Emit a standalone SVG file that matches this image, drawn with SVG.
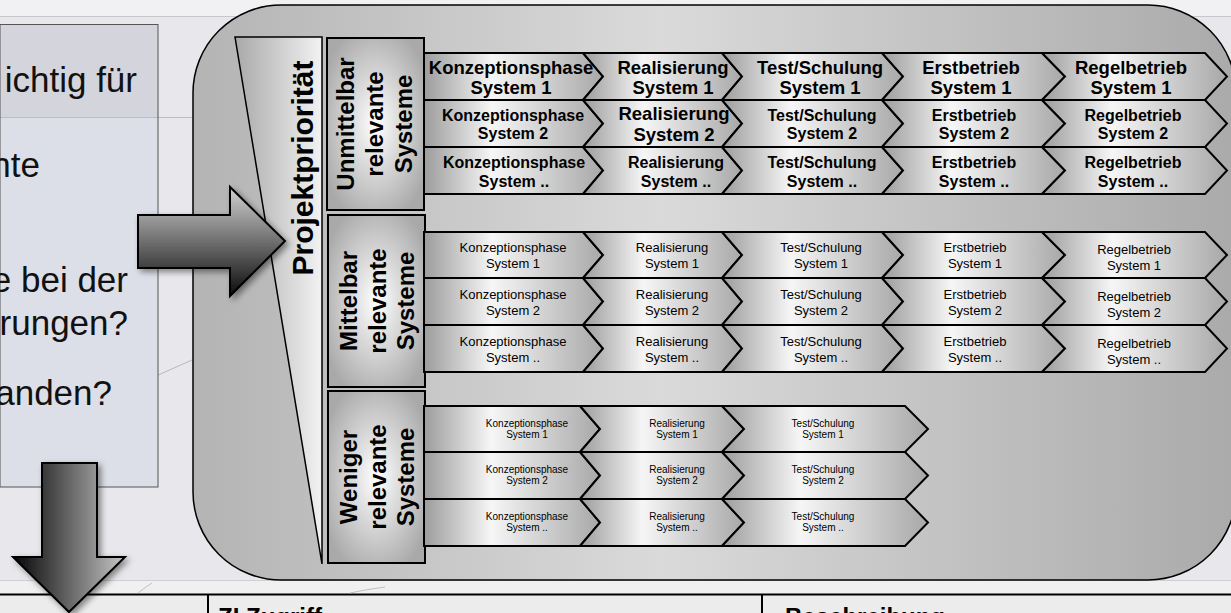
<svg xmlns="http://www.w3.org/2000/svg" width="1231" height="613" viewBox="0 0 1231 613">
<defs>
  <linearGradient id="gBig" x1="0" y1="0" x2="1" y2="0">
    <stop offset="0" stop-color="#b4b4b4"/>
    <stop offset="0.45" stop-color="#dadada"/>
    <stop offset="1" stop-color="#aaaaaa"/>
  </linearGradient>
  <linearGradient id="gChev" x1="0" y1="0" x2="1" y2="0">
    <stop offset="0" stop-color="#9c9c9c"/>
    <stop offset="0.38" stop-color="#f6f6f6"/>
    <stop offset="1" stop-color="#a8a8a8"/>
  </linearGradient>
  <radialGradient id="gLabel" cx="0.5" cy="0.5" r="0.6">
    <stop offset="0" stop-color="#ffffff"/>
    <stop offset="1" stop-color="#a9a9a9"/>
  </radialGradient>
  <linearGradient id="gPrio" x1="0" y1="0" x2="1" y2="0">
    <stop offset="0" stop-color="#a9a9a9"/>
    <stop offset="1" stop-color="#f2f2f2"/>
  </linearGradient>
  <linearGradient id="gArrR" x1="0" y1="0" x2="0" y2="1">
    <stop offset="0" stop-color="#d2d2d2"/>
    <stop offset="1" stop-color="#0c0c0c"/>
  </linearGradient>
  <linearGradient id="gArrD" x1="0" y1="0" x2="1" y2="0">
    <stop offset="0" stop-color="#050505"/>
    <stop offset="1" stop-color="#c6c6c6"/>
  </linearGradient>
  <filter id="shadow" x="-20%" y="-20%" width="150%" height="150%">
    <feDropShadow dx="3" dy="3" stdDeviation="3" flood-color="#000" flood-opacity="0.45"/>
  </filter>
</defs>
<style>
  .chev { fill: url(#gChev); stroke: #000; stroke-width: 2; stroke-linejoin: miter; }
  .lbl { fill: url(#gLabel); stroke: #000; stroke-width: 2; }
  .bl { font-family: "Liberation Sans", Arial, sans-serif; font-weight: bold; text-anchor: middle; fill: #000; }
  .rg { font-family: "Liberation Sans", Arial, sans-serif; text-anchor: middle; fill: #000; }
  .big { font-size: 18.5px; }
  .mid { font-size: 16px; }
  .sm { font-size: 13px; }
  .xs { font-size: 10px; }
  .bg { font-family: "Liberation Sans", Arial, sans-serif; font-size: 35px; fill: #111; text-anchor: end; }
</style>

<!-- background -->
<g id="background">
  <rect x="0" y="0" width="1231" height="613" fill="#e8e8ec"/>
  <rect x="0" y="0" width="1231" height="16" fill="#f1f1f3"/>
  <line x1="0" y1="16.5" x2="1231" y2="16.5" stroke="#c8c8cc" stroke-width="1"/>
  <rect x="0" y="580" width="1231" height="14" fill="#f0f0f0"/>
  <line x1="0" y1="580.5" x2="1231" y2="580.5" stroke="#cfcfd2" stroke-width="1"/>
  <rect x="0" y="594" width="1231" height="19" fill="#ececec"/>
  <line x1="0" y1="594.5" x2="1231" y2="594.5" stroke="#000" stroke-width="2"/>
  <line x1="208" y1="594" x2="208" y2="613" stroke="#000" stroke-width="2"/>
  <line x1="762" y1="594" x2="762" y2="613" stroke="#000" stroke-width="2"/>
  <text x="218" y="625" font-family="Liberation Sans, Arial, sans-serif" font-weight="bold" font-size="24" fill="#000">ZI Zugriff</text>
  <text x="785" y="625" font-family="Liberation Sans, Arial, sans-serif" font-weight="bold" font-size="24" fill="#000">Beschreibung</text>
  <polyline points="0,432 60,418 120,392 192,360" fill="none" stroke="#b8b8bc" stroke-width="1"/>
  <polyline points="138,593 146,587 152,583" fill="none" stroke="#c0c0c4" stroke-width="1"/>
  <polyline points="350,593 365,590 385,587" fill="none" stroke="#c0c0c4" stroke-width="1"/>
</g>

<!-- left text box -->
<g id="question-box">
  <rect x="0" y="24" width="158" height="463" fill="#dcdfe7"/>
  <rect x="0" y="24" width="158" height="93.5" fill="#d4d4dd"/>
  <line x1="0" y1="117.5" x2="192" y2="117.5" stroke="#bdbdc2" stroke-width="1"/>
  <rect x="0" y="24.5" width="158" height="462.5" fill="none" stroke="#555" stroke-width="1"/>
  <text class="bg" x="137" y="92">ichtig für</text>
  <text class="bg" x="40" y="177">nte</text>
  <text class="bg" x="128" y="292">e bei der</text>
  <text class="bg" x="128" y="335">rungen?</text>
  <text class="bg" x="112" y="405">anden?</text>
</g>

<!-- big rounded frame -->
<g id="frame">
  <path d="M281,5 H1148 A88,88 0 0 1 1236,93 V492 A88,88 0 0 1 1148,580 H281 A88,88 0 0 1 193,492 V93 A88,88 0 0 1 281,5 Z" fill="url(#gBig)" stroke="#000" stroke-width="1.5"/>
</g>

<!-- project priority wedge -->
<g id="projektprioritaet">
  <polygon points="235,37 322,37 322,564" fill="url(#gPrio)" stroke="#000" stroke-width="1.5"/>
  <text class="bl" transform="translate(313,168) rotate(-90)" x="0" y="0" font-size="30">Projektpriorität</text>
</g>

<!-- category labels -->
<g id="label-unmittelbar">
  <rect class="lbl" x="327" y="38" width="97" height="172"/>
  <text class="bl" transform="translate(375,124) rotate(-90)" font-size="24"><tspan x="0" y="-21">Unmittelbar</tspan><tspan x="0" y="8">relevante</tspan><tspan x="0" y="37">Systeme</tspan></text>
</g>
<g id="label-mittelbar">
  <rect class="lbl" x="328" y="215" width="97" height="172"/>
  <text class="bl" transform="translate(376,301) rotate(-90)" font-size="24"><tspan x="0" y="-19">Mittelbar</tspan><tspan x="0" y="10">relevante</tspan><tspan x="0" y="38">Systeme</tspan></text>
</g>
<g id="label-weniger">
  <rect class="lbl" x="328" y="391" width="97" height="172"/>
  <text class="bl" transform="translate(376,477) rotate(-90)" font-size="24"><tspan x="0" y="-19">Weniger</tspan><tspan x="0" y="10">relevante</tspan><tspan x="0" y="38">Systeme</tspan></text>
</g>

<!-- Unmittelbar relevante Systeme: chevrons -->
<g id="row-a1">
  <path class="chev" d="M424,53 H583 L603,76.5 L583,100 H424 Z"/>
  <path class="chev" d="M583,53 H722 L742,76.5 L722,100 H583 L603,76.5 Z"/>
  <path class="chev" d="M722,53 H882 L903,76.5 L882,100 H722 L742,76.5 Z"/>
  <path class="chev" d="M882,53 H1042 L1065,76.5 L1042,100 H882 L903,76.5 Z"/>
  <path class="chev" d="M1042,53 H1205 L1227,76.5 L1205,100 H1042 L1065,76.5 Z"/>
  <text class="bl big"><tspan x="511" y="74">Konzeptionsphase</tspan><tspan x="511" y="94">System 1</tspan></text>
  <text class="bl big"><tspan x="673" y="74">Realisierung</tspan><tspan x="673" y="94">System 1</tspan></text>
  <text class="bl big"><tspan x="820" y="74">Test/Schulung</tspan><tspan x="820" y="94">System 1</tspan></text>
  <text class="bl big"><tspan x="971" y="74">Erstbetrieb</tspan><tspan x="971" y="94">System 1</tspan></text>
  <text class="bl big"><tspan x="1131" y="74">Regelbetrieb</tspan><tspan x="1131" y="94">System 1</tspan></text>
</g>
<g id="row-a2">
  <path class="chev" d="M424,100 H583 L603,123.5 L583,147 H424 Z"/>
  <path class="chev" d="M583,100 H722 L742,123.5 L722,147 H583 L603,123.5 Z"/>
  <path class="chev" d="M722,100 H882 L903,123.5 L882,147 H722 L742,123.5 Z"/>
  <path class="chev" d="M882,100 H1042 L1065,123.5 L1042,147 H882 L903,123.5 Z"/>
  <path class="chev" d="M1042,100 H1205 L1227,123.5 L1205,147 H1042 L1065,123.5 Z"/>
  <text class="bl mid"><tspan x="513" y="121">Konzeptionsphase</tspan><tspan x="513" y="139">System 2</tspan></text>
  <text class="bl big"><tspan x="674" y="120">Realisierung</tspan><tspan x="674" y="141">System 2</tspan></text>
  <text class="bl mid"><tspan x="822" y="121">Test/Schulung</tspan><tspan x="822" y="139">System 2</tspan></text>
  <text class="bl mid"><tspan x="974" y="121">Erstbetrieb</tspan><tspan x="974" y="139">System 2</tspan></text>
  <text class="bl mid"><tspan x="1133" y="121">Regelbetrieb</tspan><tspan x="1133" y="139">System 2</tspan></text>
</g>
<g id="row-a3">
  <path class="chev" d="M424,147 H583 L603,170.5 L583,194 H424 Z"/>
  <path class="chev" d="M583,147 H722 L742,170.5 L722,194 H583 L603,170.5 Z"/>
  <path class="chev" d="M722,147 H882 L903,170.5 L882,194 H722 L742,170.5 Z"/>
  <path class="chev" d="M882,147 H1042 L1065,170.5 L1042,194 H882 L903,170.5 Z"/>
  <path class="chev" d="M1042,147 H1205 L1227,170.5 L1205,194 H1042 L1065,170.5 Z"/>
  <text class="bl mid"><tspan x="514" y="168">Konzeptionsphase</tspan><tspan x="514" y="187">System ..</tspan></text>
  <text class="bl mid"><tspan x="676" y="168">Realisierung</tspan><tspan x="676" y="187">System ..</tspan></text>
  <text class="bl mid"><tspan x="822" y="168">Test/Schulung</tspan><tspan x="822" y="187">System ..</tspan></text>
  <text class="bl mid"><tspan x="974" y="168">Erstbetrieb</tspan><tspan x="974" y="187">System ..</tspan></text>
  <text class="bl mid"><tspan x="1133" y="168">Regelbetrieb</tspan><tspan x="1133" y="187">System ..</tspan></text>
</g>

<!-- Mittelbar relevante Systeme -->
<g id="row-b1">
  <path class="chev" d="M424,232 H583 L603,255 L583,278 H424 Z"/>
  <path class="chev" d="M583,232 H722 L742,255 L722,278 H583 L603,255 Z"/>
  <path class="chev" d="M722,232 H882 L903,255 L882,278 H722 L742,255 Z"/>
  <path class="chev" d="M882,232 H1042 L1065,255 L1042,278 H882 L903,255 Z"/>
  <path class="chev" d="M1042,232 H1205 L1227,255 L1205,278 H1042 L1065,255 Z"/>
  <text class="rg sm"><tspan x="513" y="252">Konzeptionsphase</tspan><tspan x="513" y="268">System 1</tspan></text>
  <text class="rg sm"><tspan x="672" y="252">Realisierung</tspan><tspan x="672" y="268">System 1</tspan></text>
  <text class="rg sm"><tspan x="821" y="252">Test/Schulung</tspan><tspan x="821" y="268">System 1</tspan></text>
  <text class="rg sm"><tspan x="975" y="252">Erstbetrieb</tspan><tspan x="975" y="268">System 1</tspan></text>
  <text class="rg sm"><tspan x="1134" y="254">Regelbetrieb</tspan><tspan x="1134" y="270">System 1</tspan></text>
</g>
<g id="row-b2">
  <path class="chev" d="M424,278 H583 L603,301.5 L583,325 H424 Z"/>
  <path class="chev" d="M583,278 H722 L742,301.5 L722,325 H583 L603,301.5 Z"/>
  <path class="chev" d="M722,278 H882 L903,301.5 L882,325 H722 L742,301.5 Z"/>
  <path class="chev" d="M882,278 H1042 L1065,301.5 L1042,325 H882 L903,301.5 Z"/>
  <path class="chev" d="M1042,278 H1205 L1227,301.5 L1205,325 H1042 L1065,301.5 Z"/>
  <text class="rg sm"><tspan x="513" y="299">Konzeptionsphase</tspan><tspan x="513" y="315">System 2</tspan></text>
  <text class="rg sm"><tspan x="672" y="299">Realisierung</tspan><tspan x="672" y="315">System 2</tspan></text>
  <text class="rg sm"><tspan x="821" y="299">Test/Schulung</tspan><tspan x="821" y="315">System 2</tspan></text>
  <text class="rg sm"><tspan x="975" y="299">Erstbetrieb</tspan><tspan x="975" y="315">System 2</tspan></text>
  <text class="rg sm"><tspan x="1134" y="301">Regelbetrieb</tspan><tspan x="1134" y="317">System 2</tspan></text>
</g>
<g id="row-b3">
  <path class="chev" d="M424,325 H583 L603,348.5 L583,372 H424 Z"/>
  <path class="chev" d="M583,325 H722 L742,348.5 L722,372 H583 L603,348.5 Z"/>
  <path class="chev" d="M722,325 H882 L903,348.5 L882,372 H722 L742,348.5 Z"/>
  <path class="chev" d="M882,325 H1042 L1065,348.5 L1042,372 H882 L903,348.5 Z"/>
  <path class="chev" d="M1042,325 H1205 L1227,348.5 L1205,372 H1042 L1065,348.5 Z"/>
  <text class="rg sm"><tspan x="513" y="346">Konzeptionsphase</tspan><tspan x="513" y="362">System ..</tspan></text>
  <text class="rg sm"><tspan x="672" y="346">Realisierung</tspan><tspan x="672" y="362">System ..</tspan></text>
  <text class="rg sm"><tspan x="821" y="346">Test/Schulung</tspan><tspan x="821" y="362">System ..</tspan></text>
  <text class="rg sm"><tspan x="975" y="346">Erstbetrieb</tspan><tspan x="975" y="362">System ..</tspan></text>
  <text class="rg sm"><tspan x="1134" y="348">Regelbetrieb</tspan><tspan x="1134" y="364">System ..</tspan></text>
</g>

<!-- Weniger relevante Systeme -->
<g id="row-c1">
  <path class="chev" d="M424,406 H580 L600,429 L580,452 H424 Z"/>
  <path class="chev" d="M580,406 H722 L744,429 L722,452 H580 L600,429 Z"/>
  <path class="chev" d="M722,406 H905 L928,429 L905,452 H722 L744,429 Z"/>
  <text class="rg xs"><tspan x="527" y="427">Konzeptionsphase</tspan><tspan x="527" y="438">System 1</tspan></text>
  <text class="rg xs"><tspan x="677" y="427">Realisierung</tspan><tspan x="677" y="438">System 1</tspan></text>
  <text class="rg xs"><tspan x="823" y="427">Test/Schulung</tspan><tspan x="823" y="438">System 1</tspan></text>
</g>
<g id="row-c2">
  <path class="chev" d="M424,452 H580 L600,475.5 L580,499 H424 Z"/>
  <path class="chev" d="M580,452 H722 L744,475.5 L722,499 H580 L600,475.5 Z"/>
  <path class="chev" d="M722,452 H905 L928,475.5 L905,499 H722 L744,475.5 Z"/>
  <text class="rg xs"><tspan x="527" y="473">Konzeptionsphase</tspan><tspan x="527" y="484">System 2</tspan></text>
  <text class="rg xs"><tspan x="677" y="473">Realisierung</tspan><tspan x="677" y="484">System 2</tspan></text>
  <text class="rg xs"><tspan x="823" y="473">Test/Schulung</tspan><tspan x="823" y="484">System 2</tspan></text>
</g>
<g id="row-c3">
  <path class="chev" d="M424,499 H580 L600,522.5 L580,546 H424 Z"/>
  <path class="chev" d="M580,499 H722 L744,522.5 L722,546 H580 L600,522.5 Z"/>
  <path class="chev" d="M722,499 H905 L928,522.5 L905,546 H722 L744,522.5 Z"/>
  <text class="rg xs"><tspan x="527" y="520">Konzeptionsphase</tspan><tspan x="527" y="531">System ..</tspan></text>
  <text class="rg xs"><tspan x="677" y="520">Realisierung</tspan><tspan x="677" y="531">System ..</tspan></text>
  <text class="rg xs"><tspan x="823" y="520">Test/Schulung</tspan><tspan x="823" y="531">System ..</tspan></text>
</g>

<!-- connectors: block arrows -->
<g id="connectors">
  <path d="M138,215 H230 V187 L285,241 L230,296 V268 H138 Z" fill="url(#gArrR)" stroke="#000" stroke-width="2" filter="url(#shadow)"/>
  <path d="M42,463 H97 V557 H125 L69,612 L13,557 H42 Z" fill="url(#gArrD)" stroke="#000" stroke-width="2" filter="url(#shadow)"/>
</g>
</svg>
